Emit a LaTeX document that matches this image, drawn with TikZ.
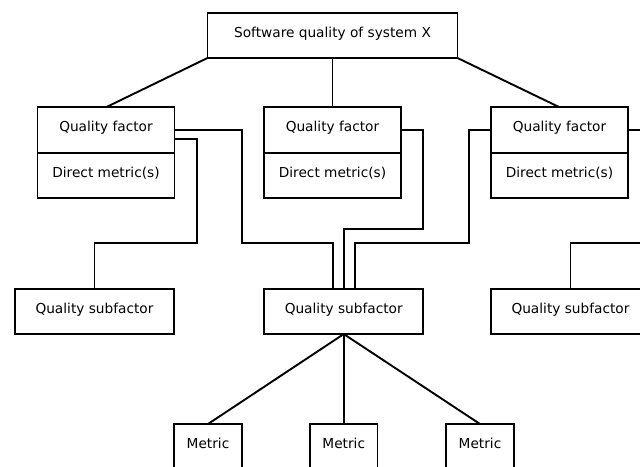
\documentclass[tikz,border=0pt]{standalone}
\usepackage{fontspec}
\setmainfont{DejaVu Sans}
\begin{document}
\begin{tikzpicture}[x=1pt,y=-1pt,
  box/.style={draw, line width=1.9pt, inner sep=0pt, outer sep=0pt, minimum height=45.5pt,
    text height=10pt, text depth=6.5pt, font=\fontsize{13.7}{16}\selectfont},
  factorbox/.style={box, minimum width=137pt},
  subbox/.style={box, minimum width=159pt},
  metricbox/.style={box, minimum width=67.5pt, minimum height=45pt},
  wire/.style={line width=1.9pt, line join=miter}]
\useasboundingbox (0,0) rectangle (640,466);

% root
\node[box, minimum width=250pt, minimum height=45pt] (root) at (332.5,35.5) {Software quality of system X};

% quality factors with their direct metrics
\node[factorbox] (qf1) at (106,130) {Quality factor};
\node[factorbox, anchor=north] (dm1) at (qf1.south) {Direct metric(s)};
\node[factorbox] (qf2) at (332.5,130) {Quality factor};
\node[factorbox, anchor=north] (dm2) at (qf2.south) {Direct metric(s)};
\node[factorbox] (qf3) at (559.5,130) {Quality factor};
\node[factorbox, anchor=north] (dm3) at (qf3.south) {Direct metric(s)};

% subfactors
\node[subbox] (sf1) at (94.5,311.3) {Quality subfactor};
\node[subbox] (sf2) at (343.75,311.3) {Quality subfactor};
\node[subbox] (sf3) at (570.5,311.3) {Quality subfactor};

% metrics
\node[metricbox] (m1) at (208,446.5) {Metric};
\node[metricbox] (m2) at (343.75,446.5) {Metric};
\node[metricbox] (m3) at (480,446.5) {Metric};

% entry points on top of the middle subfactor
\coordinate (in2a) at ([xshift=-11pt]sf2.north);
\coordinate (in2c) at ([xshift=11pt]sf2.north);
% off-page ends
\coordinate (out3) at (670,130);
\coordinate (out3b) at (670,242.7);

% root to factors
\draw[wire] (root.south west) -- (qf1.north);
\draw[wire] (root.south) -- (qf2.north);
\draw[wire] (root.south east) -- (qf3.north);

% factors to subfactors
\draw[wire] (qf1.east) -- (241.6,130) -- (241.6,242.7) -| (in2a);
\draw[wire] (174.5,139) -- (196.7,139) -- (196.7,242.7) -| (sf1.north);
\draw[wire] (qf2.east) -- (423,130) -- (423,229) -| (sf2.north);
\draw[wire] (qf3.west) -- (468.6,130) -- (468.6,242.7) -| (in2c);
\draw[wire] (qf3.east) -- (out3);
\draw[wire] (sf3.north) |- (out3b);

% subfactor to metrics
\draw[wire] (sf2.south) -- (m1.north);
\draw[wire] (sf2.south) -- (m2.north);
\draw[wire] (sf2.south) -- (m3.north);
\end{tikzpicture}
\end{document}
